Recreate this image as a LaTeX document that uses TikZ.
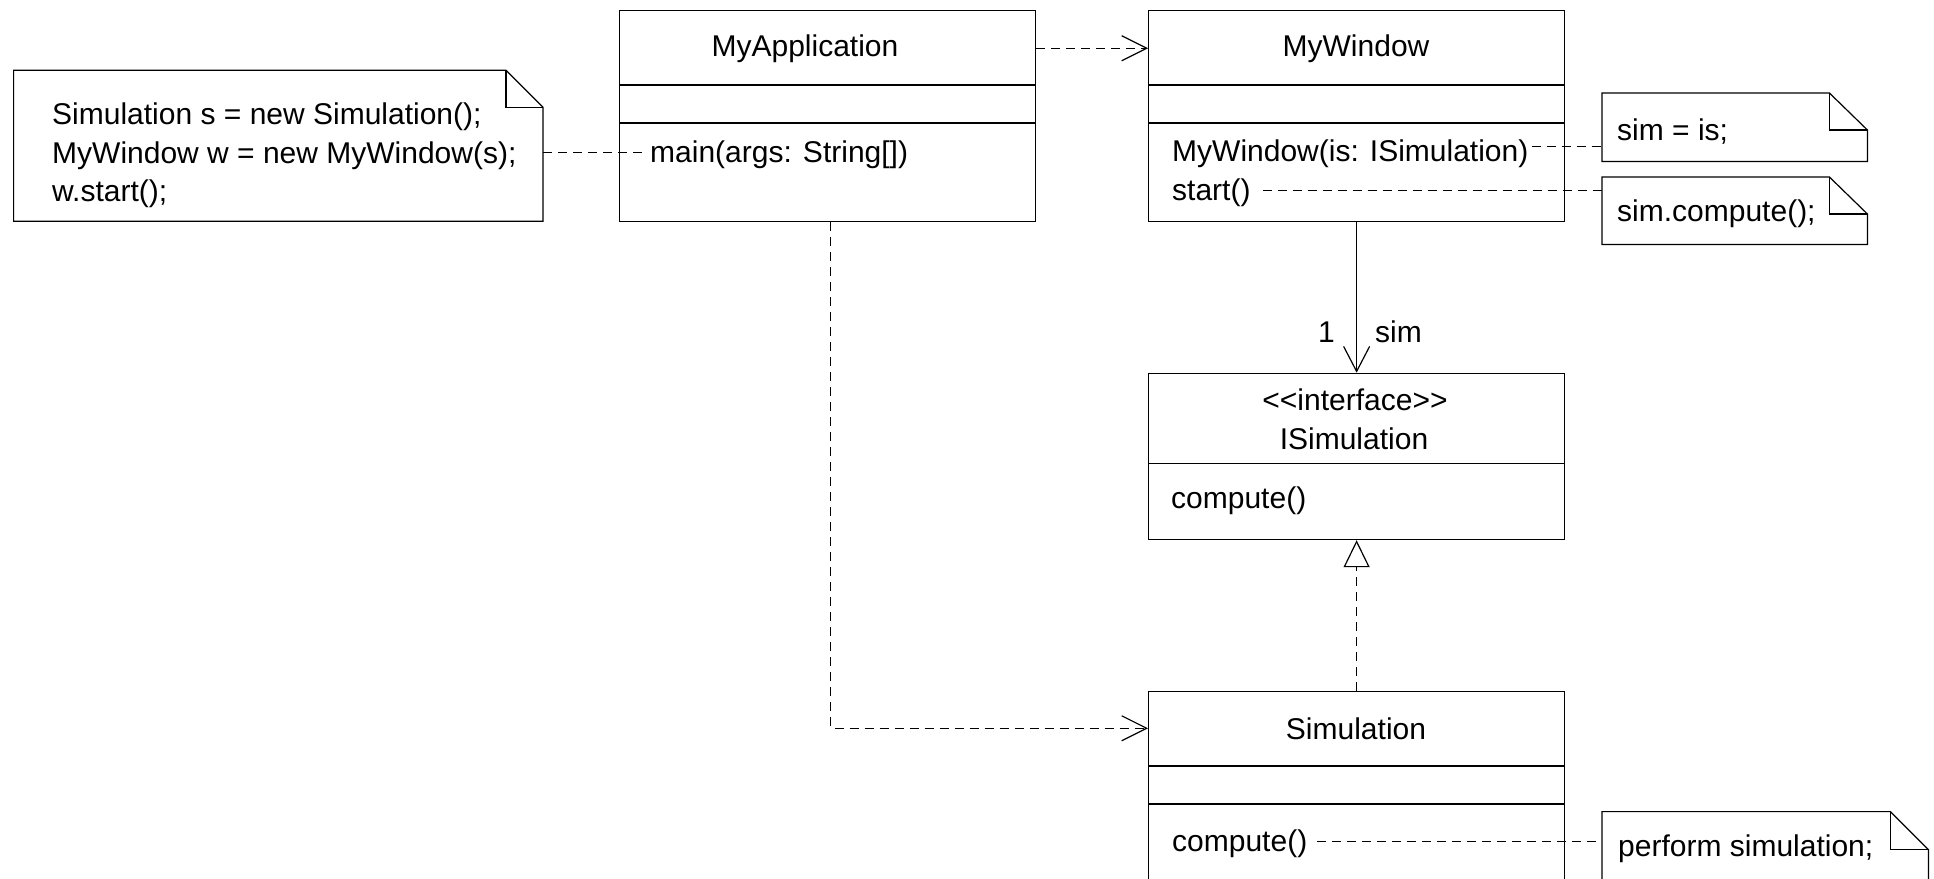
\documentclass[tikz,border=0pt]{standalone}
\usepackage{fontspec}
\setmainfont{Liberation Sans}
\usetikzlibrary{arrows.meta,calc}
\begin{document}
\begin{tikzpicture}[x=1pt,y=-1pt,
  every node/.style={inner sep=0pt, font=\fontsize{30}{36}\selectfont},
  lw/.style={line width=1.2pt},
  classbox/.style={draw, line width=1.2pt, minimum width=416pt, anchor=north west},
  notebox/.style={inner sep=0pt, anchor=north west},
  dashln/.style={line width=1.2pt, dash pattern=on 9pt off 6pt},
  dep/.style={dashln, -{Straight Barb[length=25pt,width=25pt]}},
  assoc/.style={lw, -{Straight Barb[length=25pt,width=26pt]}},
  realize/.style={dashln, -{Triangle[open,length=27pt,width=26pt]}},
  txt/.style={anchor=base west},
  ttl/.style={anchor=base}]
\useasboundingbox (0,0) rectangle (1934,878);
\clip (0,0) rectangle (1934,878);

% ---- classes ----
\node[classbox, minimum height=211pt] (app) at (619,10) {};
\draw[lw] ($(app.north west)+(0,75)$) -- ($(app.north east)+(0,75)$);
\draw[lw] ($(app.north west)+(0,113)$) -- ($(app.north east)+(0,113)$);
\node[ttl] (apptitle) at (805,56) {MyApplication};
\node[txt] (appmain) at (650,162) {main(args: String[])};

\node[classbox, minimum height=211pt] (win) at (1148,10) {};
\draw[lw] ($(win.north west)+(0,75)$) -- ($(win.north east)+(0,75)$);
\draw[lw] ($(win.north west)+(0,113)$) -- ($(win.north east)+(0,113)$);
\node[ttl] (wintitle) at (1356,56) {MyWindow};
\node[txt] (wctor) at (1172,161) {MyWindow(is: ISimulation)};
\node[txt] (wstart) at (1172,200) {start()};

\node[classbox, minimum height=166.3pt] (isim) at (1148,372.7) {};
\draw[lw] ($(isim.north west)+(0,91)$) -- ($(isim.north east)+(0,91)$);
\node[ttl] (istereo) at (1355,410) {<{}<interface>{}>};
\node[ttl] (ititle) at (1354,449) {ISimulation};
\node[txt] (icomp) at (1171,508) {compute()};

\node[classbox, minimum height=230pt] (sim) at (1148,690.7) {};
\draw[lw] ($(sim.north west)+(0,75.3)$) -- ($(sim.north east)+(0,75.3)$);
\draw[lw] ($(sim.north west)+(0,113.3)$) -- ($(sim.north east)+(0,113.3)$);
\node[ttl] (simtitle) at (1356,739) {Simulation};
\node[txt] (scomp) at (1172,851) {compute()};

% ---- notes ----
\node[notebox, minimum width=529pt, minimum height=150.5pt] (n0) at (13.6,70.3) {};
\draw[lw, line join=miter] (n0.north west) -- ($(n0.north east)+(-37,0)$) -- ($(n0.north east)+(0,37)$) -- (n0.south east) -- (n0.south west) -- cycle;
\draw[lw] ($(n0.north east)+(-37,0)$) |- ($(n0.north east)+(0,37)$);
\node[txt] (n0a) at (52,124) {Simulation s = new Simulation();};
\node[txt] (n0b) at (52,163) {MyWindow w = new MyWindow(s);};
\node[txt] (n0c) at (52,201) {w.start();};

\node[notebox, minimum width=265pt, minimum height=68pt] (n1) at (1602,93) {};
\draw[lw, line join=miter] (n1.north west) -- ($(n1.north east)+(-38,0)$) -- ($(n1.north east)+(0,37)$) -- (n1.south east) -- (n1.south west) -- cycle;
\draw[lw] ($(n1.north east)+(-38,0)$) |- ($(n1.north east)+(0,37)$);
\node[txt] (n1t) at (1617,140) {sim = is;};

\node[notebox, minimum width=265pt, minimum height=67pt] (n2) at (1602,177) {};
\draw[lw, line join=miter] (n2.north west) -- ($(n2.north east)+(-38,0)$) -- ($(n2.north east)+(0,37)$) -- (n2.south east) -- (n2.south west) -- cycle;
\draw[lw] ($(n2.north east)+(-38,0)$) |- ($(n2.north east)+(0,37)$);
\node[txt] (n2t) at (1617,221) {sim.compute();};

\node[notebox, minimum width=326pt, minimum height=100pt] (n3) at (1602,811.6) {};
\draw[lw, line join=miter] (n3.north west) -- ($(n3.north east)+(-38,0)$) -- ($(n3.north east)+(0,38)$) -- (n3.south east) -- (n3.south west) -- cycle;
\draw[lw] ($(n3.north east)+(-38,0)$) |- ($(n3.north east)+(0,38)$);
\node[txt] (n3t) at (1618,856) {perform simulation;};

% ---- connectors ----
\draw[dashln] ($(n0.east |- appmain.west)+(0,-2)$) -- ($(appmain.west)+(-5,-2)$);
\draw[dashln] ($(wctor.east)+(3,-7)$) -- ($(wctor.east -| n1.west)+(0,-7)$);
\draw[dashln] ($(wstart.east)+(12,-2)$) -- ($(wstart.east -| n2.west)+(0,-2)$);
\draw[dashln] ($(scomp.east)+(10,-2)$) -- ($(scomp.east -| n3.west)+(0,-2)$);

\draw[dep] (apptitle.center -| app.east) -- (apptitle.center -| win.west);
\draw[dep] ($(app.south)+(3,0)$) |- (simtitle.center -| sim.west);
\draw[assoc] (win.south) -- (isim.north);
\draw[realize] (sim.north) -- (isim.south);
\node[anchor=base east] (mult) at (1335,342.7) {1};
\node[anchor=base west] (role) at (1375,342.7) {sim};
\end{tikzpicture}
\end{document}
